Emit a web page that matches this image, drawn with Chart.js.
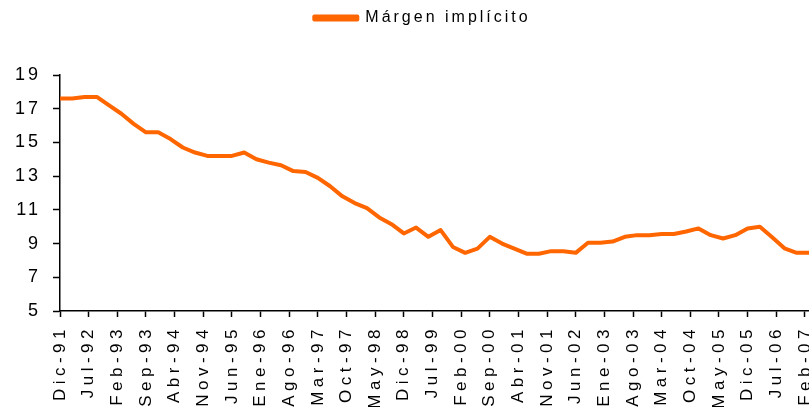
<!DOCTYPE html>
<html>
<head>
<meta charset="utf-8">
<script src="https://cdn.jsdelivr.net/npm/chart.js@4"></script>
<style>
  html, body { margin: 0; padding: 0; background: #fff; }
  #wrap { width: 809px; height: 407px; }
</style>
</head>
<body>
<div id="wrap"><canvas id="margenChart"></canvas></div>
<script>
// Month names used for the category axis (Dic-91 .. Mar-07, monthly)
const meses = ['Ene', 'Feb', 'Mar', 'Abr', 'May', 'Jun', 'Jul', 'Ago', 'Sep', 'Oct', 'Nov', 'Dic'];

// Tick labels shown on the x axis (every 7 months)
const tickLabels = ['Dic-91', 'Jul-92', 'Feb-93', 'Sep-93', 'Abr-94', 'Nov-94', 'Jun-95', 'Ene-96', 'Ago-96',
    'Mar-97', 'Oct-97', 'May-98', 'Dic-98', 'Jul-99', 'Feb-00', 'Sep-00', 'Abr-01', 'Nov-01', 'Jun-02',
    'Ene-03', 'Ago-03', 'Mar-04', 'Oct-04', 'May-05', 'Dic-05', 'Jul-06', 'Feb-07'];

// Quarterly values, Dic-91 .. Mar-07
const margen = [17.6, 17.6, 17.7, 17.7, 17.2, 16.7, 16.1, 15.6, 15.6, 15.2, 14.7, 14.4, 14.2, 14.2, 14.2, 14.4,
    14.0, 13.8, 13.65, 13.3, 13.25, 12.9, 12.4, 11.8, 11.4, 11.1, 10.55, 10.15, 9.6, 9.95, 9.4, 9.8,
    8.8, 8.45, 8.7, 9.4, 9.0, 8.7, 8.4, 8.4, 8.55, 8.55, 8.45, 9.05, 9.05, 9.12, 9.4, 9.5,
    9.5, 9.57, 9.57, 9.72, 9.9, 9.5, 9.3, 9.5, 9.9, 10.0, 9.37, 8.72, 8.45, 8.45];

const FONT = "'Liberation Sans', Arial, sans-serif";

// monthly categories
const months = [];
for (let y = 1991, m = 11; ; m++) {
    if (m === 12) { m = 0; y++; }
    if (y === 2007 && m > 2) break;
    months.push(meses[m] + '-' + String(y).slice(2));
}

// one point per quarter placed on its month
const points = margen.map((v, i) => ({ x: months[i * 3], y: v }));

// spaced-out lettering like the original
const spacing = {
    id: 'spacing',
    beforeLayout(chart) { chart.ctx.letterSpacing = '3px'; },
    afterLayout(chart) {
        // legend at the very top, a bit right of centre
        const lg = chart.legend;
        const h = lg.bottom - lg.top;
        lg.top = 0;
        lg.bottom = h;
        lg.left += 18;
        lg.right += 18;
    },
    beforeDraw(chart) {
        chart.ctx.letterSpacing = '3px';
        const gaps = { x: '4.5px', y: '3px' };
        Object.values(chart.scales).forEach(s => {
            if (s._spaced) return;
            const orig = s.drawLabels;
            s.drawLabels = function (area) {
                const c = this.ctx;
                const prev = c.letterSpacing;
                c.letterSpacing = gaps[this.id];
                orig.call(this, area);
                c.letterSpacing = prev;
            };
            s._spaced = true;
        });
    }
};

const ctx = document.getElementById('margenChart').getContext('2d');
const chart = new Chart(ctx, {
    type: 'line',
    data: {
        labels: months,
        datasets: [{
            label: 'Márgen implícito',
            data: points,
            borderColor: '#ff6600',
            backgroundColor: '#ff6600',
            borderWidth: 4,
            pointRadius: 0,
            tension: 0,
            borderJoinStyle: 'round'
        }]
    },
    options: {
        responsive: true,
        maintainAspectRatio: false,
        animation: false,
        layout: { padding: 0 },
        plugins: {
            legend: {
                labels: {
                    color: '#000',
                    font: { family: FONT, size: 16 },
                    boxWidth: 43,
                    boxHeight: 3,
                    padding: 10
                }
            },
            tooltip: { enabled: false }
        },
        scales: {
            x: {
                type: 'category',
                offset: false,
                grid: { display: true, drawOnChartArea: false, color: '#000', tickLength: 6, tickWidth: 1.5 },
                border: { display: true, color: '#000', width: 1.5 },
                ticks: {
                    autoSkip: false,
                    maxRotation: 90,
                    minRotation: 90,
                    padding: 8,
                    color: '#000',
                    font: { family: FONT, size: 17 },
                    callback: function (val, idx) {
                        return idx % 7 === 0 ? tickLabels[idx / 7] : null;
                    }
                },
                afterFit(scale) {
                    scale.height = 96;
                    scale.paddingRight = 0;
                    scale.paddingLeft = 0;
                }
            },
            y: {
                min: 5,
                max: 19,
                grid: { display: true, drawOnChartArea: false, color: '#000', tickLength: 7, tickWidth: 1.5 },
                border: { display: true, color: '#000', width: 1.5 },
                ticks: {
                    stepSize: 2,
                    padding: 12,
                    color: '#000',
                    font: { family: FONT, size: 18 }
                },
                afterFit(scale) {
                    scale.width = 60;
                    scale.paddingTop = 75;
                }
            }
        }
    },
    plugins: [spacing]
});
</script>
</body>
</html>
